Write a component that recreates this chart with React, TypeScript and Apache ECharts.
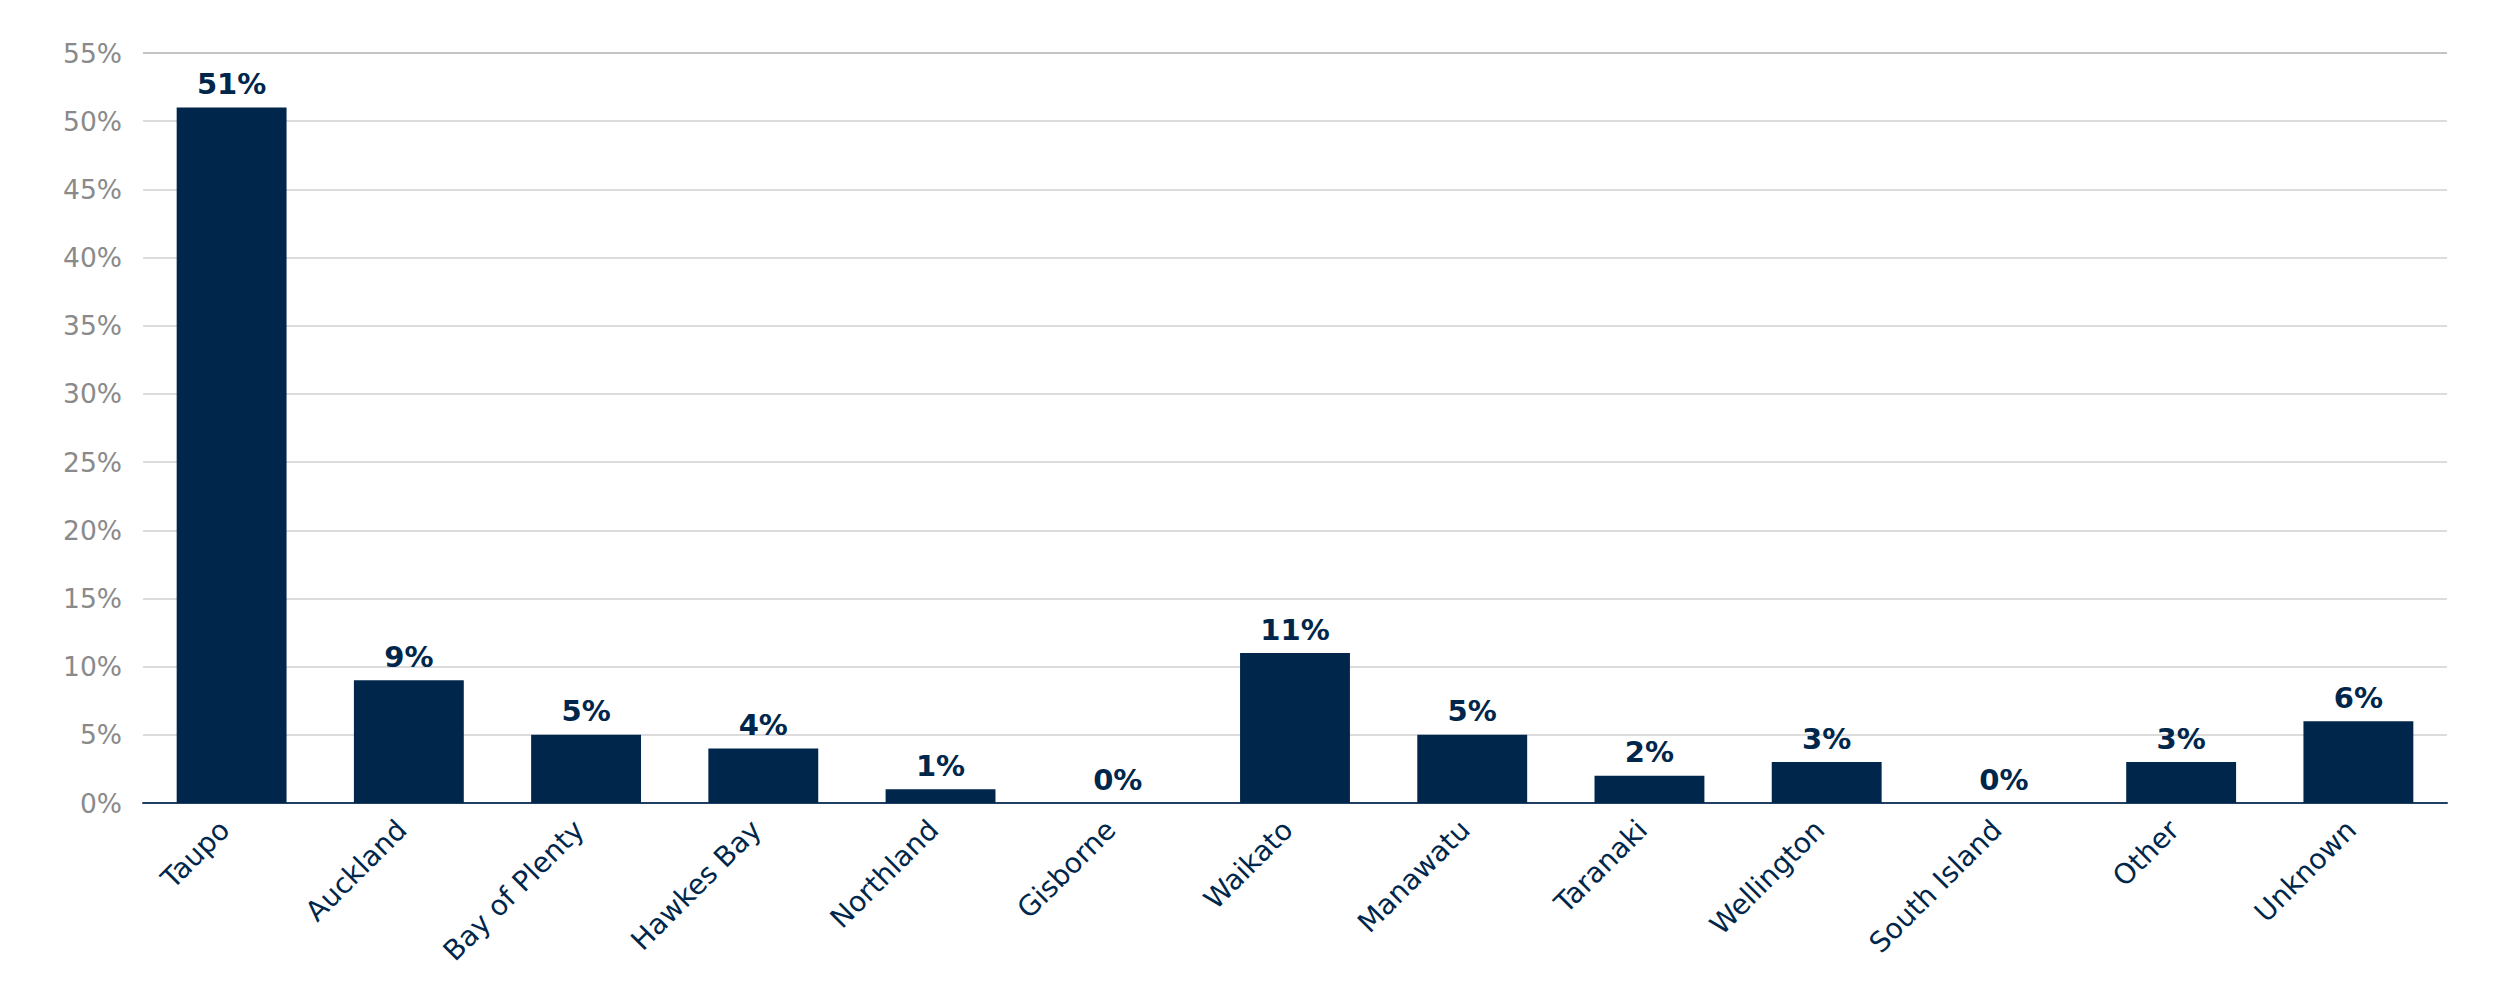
import React, { useEffect, useRef } from "react";
import * as echarts from "echarts";

const categories = [
  "Taupo",
  "Auckland",
  "Bay of Plenty",
  "Hawkes Bay",
  "Northland",
  "Gisborne",
  "Waikato",
  "Manawatu",
  "Taranaki",
  "Wellington",
  "South Island",
  "Other",
  "Unknown",
];

const shares = [51, 9, 5, 4, 1, 0, 11, 5, 2, 3, 0, 3, 6];

const yTicks = [0, 5, 10, 15, 20, 25, 30, 35, 40, 45, 50, 55];

const NAVY = "#00274b";
const FONT = "'DejaVu Sans', sans-serif";

export default function App() {
  const ref = useRef<HTMLDivElement>(null);

  useEffect(() => {
    if (!ref.current) return;
    const chart = echarts.init(ref.current, null, { renderer: "svg" });
    const gridColors = yTicks.map((_, i) => (i === yTicks.length - 1 ? "#c4c4c4" : "#dcdcdc"));
    chart.setOption({
      animation: false,
      backgroundColor: "#ffffff",
      grid: { left: 143, right: 53, top: 53, bottom: 197, containLabel: false },
      xAxis: {
        type: "category",
        data: categories,
        axisLine: { show: true, lineStyle: { color: "#1f3f63", width: 2 } },
        axisTick: { show: false },
        axisLabel: {
          rotate: 45,
          interval: 0,
          margin: 15,
          padding: [0, 10, 0, 0],
          color: NAVY,
          fontFamily: FONT,
          fontSize: 28,
        },
      },
      yAxis: {
        type: "value",
        min: yTicks[0],
        max: yTicks[yTicks.length - 1],
        interval: 5,
        axisLine: { show: false },
        axisTick: { show: false },
        splitLine: { show: true, lineStyle: { color: gridColors, width: 2 } },
        axisLabel: {
          margin: 21,
          color: "#8a8a8a",
          fontFamily: FONT,
          fontSize: 26.5,
          formatter: (v: number) => `${v}%`,
        },
      },
      series: [
        {
          type: "bar",
          data: shares,
          barCategoryGap: "38%",
          itemStyle: { color: NAVY },
          label: {
            show: true,
            position: "top",
            distance: 9,
            color: NAVY,
            fontFamily: FONT,
            fontWeight: "bold",
            fontSize: 29,
            formatter: (p: any) => `${Math.round(p.value)}%`,
          },
        },
      ],
    });
    return () => chart.dispose();
  }, []);

  return (
    <div
      ref={ref}
      style={{ position: "absolute", left: 0, top: 0, width: 2500, height: 1000 }}
    />
  );
}
